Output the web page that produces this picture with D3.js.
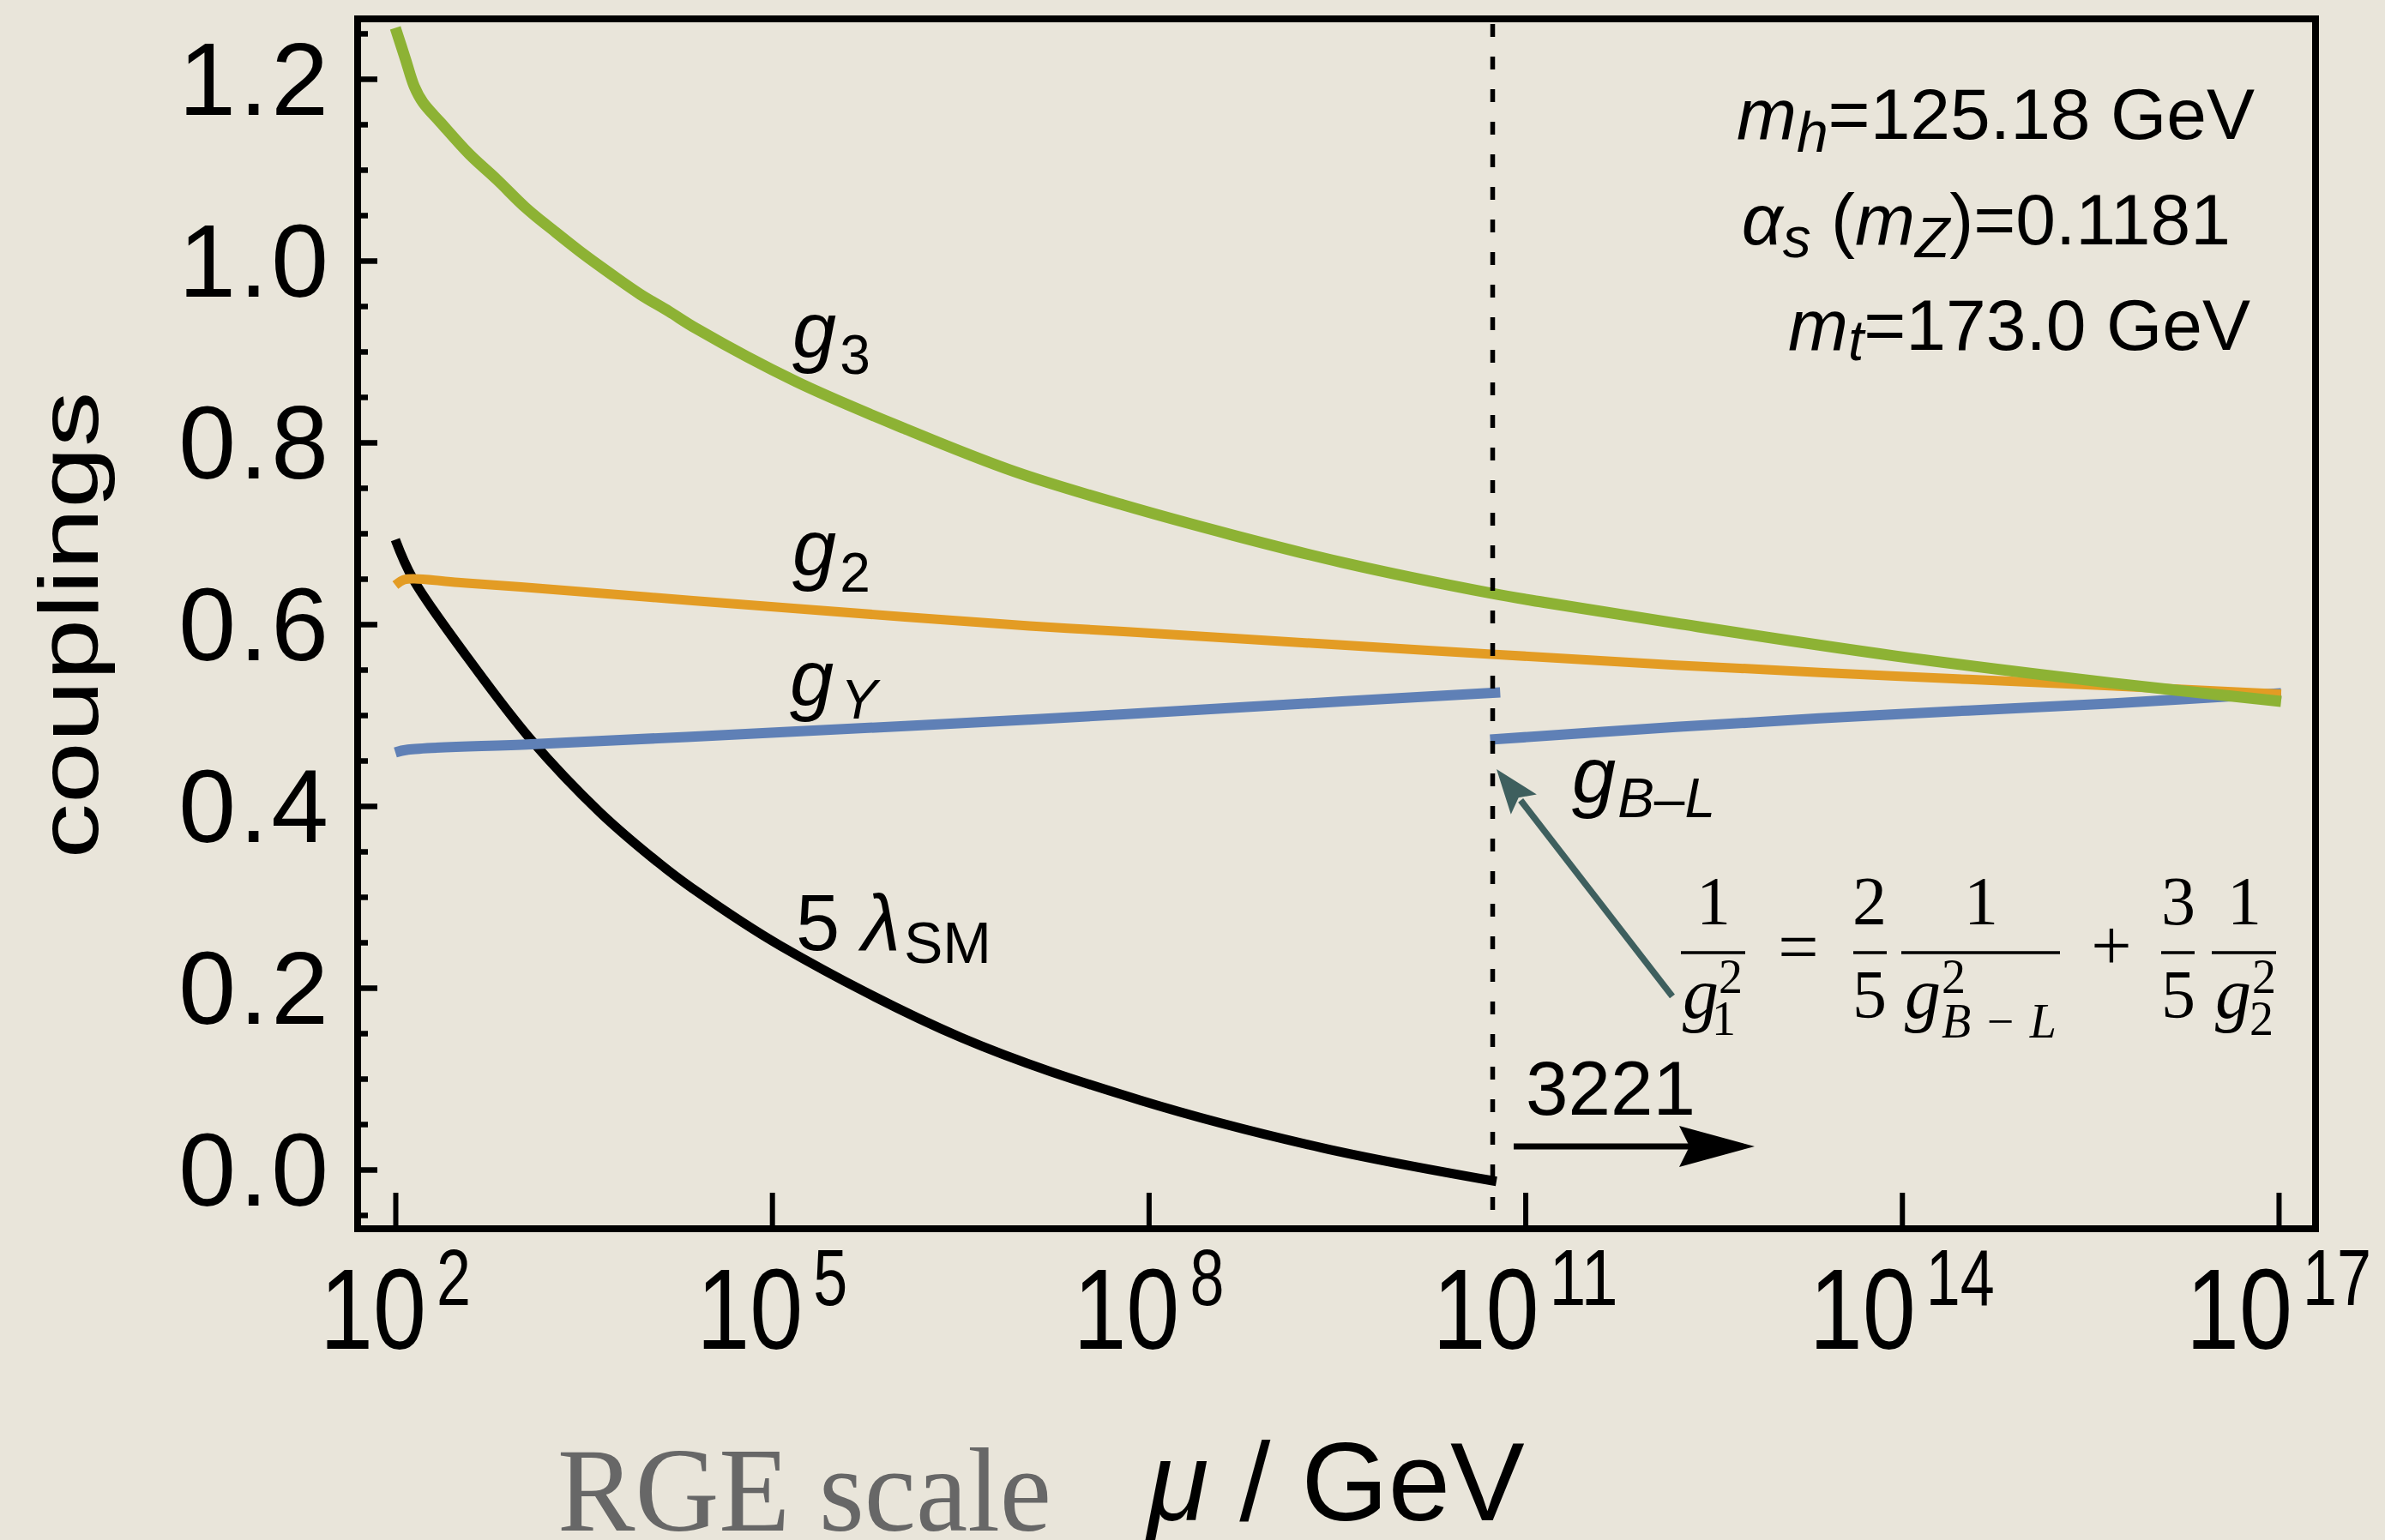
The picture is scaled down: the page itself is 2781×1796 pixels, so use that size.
<!DOCTYPE html>
<html>
<head>
<meta charset="utf-8">
<script src="https://cdn.jsdelivr.net/npm/d3@7"></script>
<style>
  html, body { margin: 0; padding: 0; background: #e9e5da; }
  svg { display: block; }
</style>
</head>
<body>
<svg id="chart" width="2781" height="1796"></svg>
<script>
// Running gauge couplings and the Higgs quartic versus the RGE scale.
// Abscissae are log10(mu / GeV).

// strong coupling g3
const logMuG3 = [2.00, 2.08, 2.15, 2.22, 2.36, 2.59, 2.81, 3.04, 3.27, 3.50, 3.72, 3.95, 4.18, 4.40,
                 5.19, 6.06, 6.93, 7.80, 8.67, 9.54, 10.73, 11.15, 12.20, 13.95, 15.69, 17.02];
const g3 = [1.256, 1.222, 1.192, 1.174, 1.152, 1.117, 1.089, 1.058, 1.032, 1.007, 0.985, 0.963, 0.944, 0.925,
            0.867, 0.815, 0.768, 0.731, 0.698, 0.668, 0.634, 0.624, 0.601, 0.565, 0.535, 0.515];

// weak coupling g2
const logMuG2 = [2.00, 2.07, 2.15, 2.50, 3.00, 4.37, 6.06, 7.05, 7.80, 9.54, 10.73, 12.20, 13.95, 15.69, 17.02];
const g2 = [0.643, 0.649, 0.650, 0.646, 0.641, 0.626, 0.608, 0.598, 0.592, 0.577, 0.567, 0.555, 0.543, 0.532, 0.523];

// hypercharge coupling gY (below the 3221 threshold)
const logMuGY = [2.00, 2.10, 3.08, 4.32, 6.06, 7.05, 7.80, 9.54, 10.80];
const gY = [0.459, 0.462, 0.468, 0.476, 0.488, 0.495, 0.501, 0.515, 0.525];

// B-L coupling (above the 3221 threshold)
const logMuGBL = [10.72, 12.20, 13.95, 15.69, 17.02];
const gBL = [0.473, 0.487, 0.501, 0.513, 0.524];

// 5 x Higgs quartic
const logMuLam = [2.00, 2.14, 2.63, 3.08, 3.63, 4.11, 4.37, 5.07, 6.51, 7.94, 9.38, 10.77];
const lam5 = [0.693, 0.650, 0.553, 0.473, 0.393, 0.336, 0.309, 0.246, 0.145, 0.076, 0.024, -0.013];

// 3221 matching scale
const thresholdLogMu = 10.74;

// axis ticks
const xTickExponents = [2, 5, 8, 11, 14, 17];
const yMajorTicks = [0.0, 0.2, 0.4, 0.6, 0.8, 1.0, 1.2];
const yTickLabels = ["0.0", "0.2", "0.4", "0.6", "0.8", "1.0", "1.2"];
const yMinorTicks = [-0.05, 0.05, 0.10, 0.15, 0.25, 0.30, 0.35, 0.45, 0.50, 0.55, 0.65, 0.70, 0.75,
                     0.85, 0.90, 0.95, 1.05, 1.10, 1.15, 1.25];

// ---------------------------------------------------------------------------
const SANS = "'Liberation Sans', Arial, Helvetica, sans-serif";
const SERIF = "'Liberation Serif', 'Times New Roman', serif";

const svg = d3.select("#chart").attr("font-family", SANS);
const W = 2781, H = 1796;
const frame = { left: 417, right: 2700, top: 22, bottom: 1433 };

const x = d3.scaleLog()
  .domain([Math.pow(10, 1.6995), Math.pow(10, 17.294)])
  .range([frame.left, frame.right]);
const y = d3.scaleLinear()
  .domain([-0.0651, 1.2660])
  .range([frame.bottom, frame.top]);

svg.append("rect").attr("width", W).attr("height", H).attr("fill", "#e9e5da");

// --- axes (inward ticks) ----------------------------------------------------
const yMinorAxis = d3.axisLeft(y).tickValues(yMinorTicks).tickSize(-12).tickFormat("");
const yMajorAxis = d3.axisLeft(y).tickValues(yMajorTicks).tickSize(-23).tickPadding(30)
  .tickFormat((d, i) => yTickLabels[i]);
const xAxis = d3.axisBottom(x).tickValues(xTickExponents.map(e => Math.pow(10, e)))
  .tickSize(-42).tickFormat("");

function styleAxis(g, w) {
  g.select(".domain").remove();
  g.selectAll(".tick line").attr("stroke", "#000").attr("stroke-width", w);
}

svg.append("g").attr("transform", `translate(${frame.left},0)`).call(yMinorAxis).call(g => styleAxis(g, 6.5));
const yAx = svg.append("g").attr("transform", `translate(${frame.left},0)`).call(yMajorAxis).call(g => styleAxis(g, 6.5));
yAx.attr("font-family", SANS).attr("font-size", 120);
yAx.selectAll(".tick text")
  .attr("letter-spacing", 4)
  .attr("fill", "#000")
  .attr("dy", null)
  .attr("dominant-baseline", "central")
  .attr("x", -30);

svg.append("g").attr("transform", `translate(0,${frame.bottom})`).call(xAxis).call(g => styleAxis(g, 6));

// x tick labels: 10 with superscript exponent (narrow glyphs)
const baseW = 124, gap = 12, supCharW = 40;
xTickExponents.forEach(e => {
  const cx = x(Math.pow(10, e));
  const sup = String(e);
  const supW = supCharW * sup.length;
  const total = baseW + gap + supW;
  const left = cx - total / 2;
  svg.append("text")
    .attr("x", left).attr("y", 1573)
    .attr("font-size", 134)
    .attr("textLength", baseW).attr("lengthAdjust", "spacingAndGlyphs")
    .text("10");
  svg.append("text")
    .attr("x", left + baseW + gap).attr("y", 1522)
    .attr("font-size", 92)
    .attr("textLength", supW).attr("lengthAdjust", "spacingAndGlyphs")
    .text(sup);
});

// --- curves -----------------------------------------------------------------
const line = d3.line()
  .x(d => x(Math.pow(10, d[0])))
  .y(d => y(d[1]))
  .curve(d3.curveCatmullRom.alpha(0.5));

function pairs(xs, ys) { return xs.map((v, i) => [v, ys[i]]); }

const series = [
  { xs: logMuLam, ys: lam5, color: "#000000", width: 11 },
  { xs: logMuGY, ys: gY, color: "#5f80b6", width: 12 },
  { xs: logMuGBL, ys: gBL, color: "#5f80b6", width: 12 },
  { xs: logMuG2, ys: g2, color: "#e39c24", width: 11 },
  { xs: logMuG3, ys: g3, color: "#8db234", width: 13 }
];

svg.append("g").selectAll("path")
  .data(series)
  .join("path")
  .attr("d", s => line(pairs(s.xs, s.ys)))
  .attr("fill", "none")
  .attr("stroke", s => s.color)
  .attr("stroke-width", s => s.width)
  .attr("stroke-linecap", "butt")
  .attr("stroke-linejoin", "round");

// threshold marker
const xThr = x(Math.pow(10, thresholdLogMu));
svg.append("line")
  .attr("x1", xThr).attr("x2", xThr)
  .attr("y1", frame.top + 6).attr("y2", frame.bottom)
  .attr("stroke", "#000").attr("stroke-width", 5.5)
  .attr("stroke-dasharray", "15,23");

// frame
svg.append("rect")
  .attr("x", frame.left).attr("y", frame.top)
  .attr("width", frame.right - frame.left).attr("height", frame.bottom - frame.top)
  .attr("fill", "none").attr("stroke", "#000").attr("stroke-width", 8);

// --- labels -----------------------------------------------------------------
function label(xp, yp, parts) {
  const t = svg.append("text").attr("x", xp).attr("y", yp);
  parts.forEach(p => {
    const ts = t.append("tspan").text(p.t).attr("font-size", p.s);
    if (p.i) ts.attr("font-style", "italic");
    if (p.dy !== undefined) ts.attr("dy", p.dy);
    if (p.dx !== undefined) ts.attr("dx", p.dx);
  });
  return t;
}

label(924, 417, [{ t: "g", s: 92, i: true }, { t: "3", s: 64, dy: 19, dx: 4 }]);
label(924, 671, [{ t: "g", s: 92, i: true }, { t: "2", s: 64, dy: 19, dx: 4 }]);
label(921, 823, [{ t: "g", s: 92, i: true }, { t: "Y", s: 64, i: true, dy: 15, dx: 8 }]);
label(1833, 936, [{ t: "g", s: 92, i: true }, { t: "B", s: 64, i: true, dy: 17, dx: 2 }, { t: "\u2013", s: 64 }, { t: "L", s: 64, i: true }]);
label(928, 1108, [{ t: "5 ", s: 92 }, { t: "\u03BB", s: 92, i: true }, { t: "SM", s: 68, dy: 15, dx: 4 }]);
label(1779, 1300, [{ t: "3221", s: 89 }]);

// 3221 arrow
const ay = 1337;
svg.append("line").attr("x1", 1765).attr("x2", 1970).attr("y1", ay).attr("y2", ay)
  .attr("stroke", "#000").attr("stroke-width", 7);
svg.append("path")
  .attr("d", `M2046,${ay} L1958,${ay - 24} L1970,${ay} L1958,${ay + 24} Z`)
  .attr("fill", "#000");

// teal pointer from the matching relation to the B-L coupling
const teal = "#3e5f5e";
const tip = [1745, 897], tail = [1950, 1162];
const ang = Math.atan2(tail[1] - tip[1], tail[0] - tip[0]);
const headLen = 52, headHalf = 19;
const bx = tip[0] + headLen * Math.cos(ang), by = tip[1] + headLen * Math.sin(ang);
svg.append("line")
  .attr("x1", tail[0]).attr("y1", tail[1])
  .attr("x2", bx - 6 * Math.cos(ang)).attr("y2", by - 6 * Math.sin(ang))
  .attr("stroke", teal).attr("stroke-width", 7.5);
svg.append("path")
  .attr("d", `M${tip[0]},${tip[1]}` +
    ` L${bx + headHalf * Math.sin(ang)},${by - headHalf * Math.cos(ang)}` +
    ` L${tip[0] + (headLen - 10) * Math.cos(ang)},${tip[1] + (headLen - 10) * Math.sin(ang)}` +
    ` L${bx - headHalf * Math.sin(ang)},${by + headHalf * Math.cos(ang)} Z`)
  .attr("fill", teal);

// input parameters
label(2629, 162, [{ t: "m", s: 84, i: true }, { t: "h", s: 66, i: true, dy: 15 }, { t: "=125.18 GeV", s: 84, dy: -15 }])
  .attr("text-anchor", "end");
label(2601, 285, [{ t: "\u03B1", s: 84, i: true }, { t: "s", s: 66, i: true, dy: 15 }, { t: " (", s: 84, dy: -15 },
  { t: "m", s: 84, i: true }, { t: "Z", s: 66, i: true, dy: 15 }, { t: ")=0.1181", s: 84, dy: -15 }])
  .attr("text-anchor", "end");
label(2624, 408, [{ t: "m", s: 84, i: true }, { t: "t", s: 66, i: true, dy: 12 }, { t: "=173.0 GeV", s: 84, dy: -12 }])
  .attr("text-anchor", "end");

// matching relation 1/g1^2 = 2/5 1/gBL^2 + 3/5 1/g2^2
const fm = svg.append("g").attr("font-family", SERIF);
function ftext(xp, yp, str, size, opts = {}) {
  const t = fm.append("text").attr("x", xp).attr("y", yp).attr("font-size", size).text(str);
  if (opts.italic) t.attr("font-style", "italic");
  if (opts.anchor) t.attr("text-anchor", opts.anchor);
  return t;
}
function bar(x1, x2) {
  fm.append("line").attr("x1", x1).attr("x2", x2).attr("y1", 1111).attr("y2", 1111)
    .attr("stroke", "#000").attr("stroke-width", 3.5);
}
const numY = 1078, denY = 1187, supY = 1158, subY = 1207;
bar(1960, 2035);
ftext(1998, numY, "1", 80, { anchor: "middle" });
ftext(1962, denY, "g", 84, { italic: true });
ftext(2004, supY, "2", 56);
ftext(1996, subY, "1", 56);
ftext(2097, 1133, "=", 84, { anchor: "middle" });
bar(2161, 2200);
ftext(2180, numY, "2", 80, { anchor: "middle" });
ftext(2180, denY, "5", 80, { anchor: "middle" });
bar(2217, 2402);
ftext(2310, numY, "1", 80, { anchor: "middle" });
ftext(2221, denY, "g", 84, { italic: true });
ftext(2264, supY, "2", 56);
const bl = fm.append("text").attr("x", 2264).attr("y", 1210).attr("font-size", 56)
  .attr("textLength", 134).attr("lengthAdjust", "spacing");
bl.append("tspan").attr("font-style", "italic").text("B");
bl.append("tspan").text("\u2212");
bl.append("tspan").attr("font-style", "italic").text("L");
ftext(2462, 1131, "+", 84, { anchor: "middle" });
bar(2520, 2559);
ftext(2540, numY, "3", 80, { anchor: "middle" });
ftext(2540, denY, "5", 80, { anchor: "middle" });
bar(2579, 2654);
ftext(2617, numY, "1", 80, { anchor: "middle" });
ftext(2583, denY, "g", 84, { italic: true });
ftext(2626, supY, "2", 56);
ftext(2623, subY, "2", 56);

// axis titles
svg.append("text")
  .attr("transform", "translate(114,729) rotate(-90)")
  .attr("text-anchor", "middle")
  .attr("font-size", 98)
  .attr("textLength", 545).attr("lengthAdjust", "spacingAndGlyphs")
  .text("couplings");

svg.append("text")
  .attr("x", 650).attr("y", 1785)
  .attr("font-family", SERIF)
  .attr("font-size", 140)
  .attr("fill", "#676767")
  .attr("textLength", 576).attr("lengthAdjust", "spacingAndGlyphs")
  .text("RGE scale");
label(1338, 1773, [{ t: "\u03BC", s: 130, i: true }, { t: " / GeV", s: 130 }]);
</script>
</body>
</html>
